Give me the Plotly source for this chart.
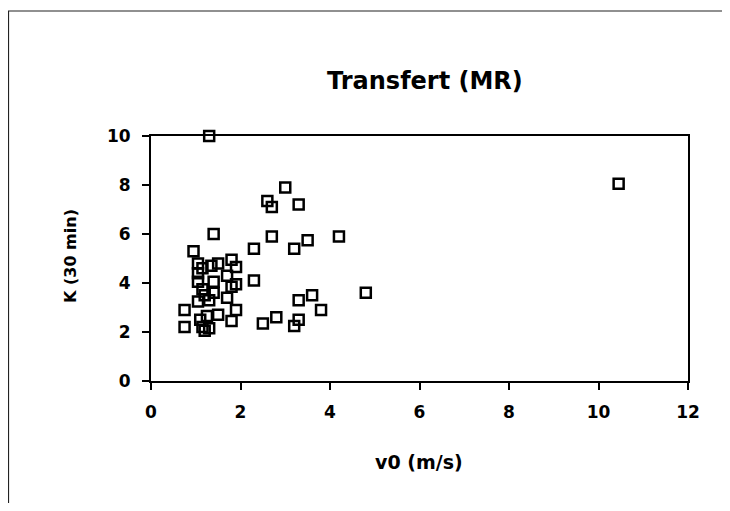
import plotly.graph_objects as go

# v0 (m/s) and K (30 min) values
v0 = [1.3, 10.45, 3.0, 2.6, 2.7, 3.3, 1.4, 2.7, 4.2, 3.5, 3.2, 2.3, 0.95,
      2.3, 4.8, 3.6, 3.3, 3.8, 2.8, 2.5, 3.3, 3.2, 0.75, 0.75,
      1.05, 1.15, 1.35, 1.5, 1.8, 1.9, 1.7, 1.05, 1.05, 1.4, 1.8, 1.9,
      1.15, 1.4, 1.2, 1.7, 1.05, 1.3, 1.9, 1.5, 1.25, 1.1, 1.8, 1.3, 1.2, 1.15]
K = [10.0, 8.05, 7.9, 7.35, 7.1, 7.2, 6.0, 5.9, 5.9, 5.75, 5.4, 5.4, 5.3,
     4.1, 3.6, 3.5, 3.3, 2.9, 2.6, 2.35, 2.5, 2.25, 2.9, 2.2,
     4.8, 4.6, 4.7, 4.8, 4.95, 4.65, 4.3, 4.4, 4.05, 4.05, 3.85, 3.95,
     3.75, 3.6, 3.5, 3.4, 3.25, 3.3, 2.9, 2.7, 2.65, 2.5, 2.45, 2.15, 2.05, 2.2]

title_text = "Transfert (MR)"
x_title = "v0 (m/s)"
y_title = "K (30 min)"
x_ticks = [0, 2, 4, 6, 8, 10, 12]
y_ticks = [0, 2, 4, 6, 8, 10]

FONT = "DejaVu Sans"

# the page body has an 8px margin; work in page pixels and shift
OFF = 8
W, H = 730 - 2 * OFF, 511 - 2 * OFF
L, R, T, B = 151 - OFF, 688 - OFF, 136 - OFF, 381 - OFF

def px(xp):
    return (xp - OFF - L) / (R - L)

def py(yp):
    return (B - (yp - OFF)) / (B - T)

fig = go.Figure()
fig.add_trace(go.Scatter(
    x=v0, y=K, mode="markers",
    marker=dict(symbol="square-open", size=10, color="black",
                line=dict(width=2.5, color="black")),
    cliponaxis=False, showlegend=False,
))

axis_common = dict(showgrid=False, zeroline=False, showline=True, linecolor="black",
                   linewidth=2, mirror=True, ticks="outside", ticklen=7,
                   tickwidth=1.5, tickcolor="black", ticklabelstandoff=8,
                   tickfont=dict(family=FONT, size=17, color="black", weight="bold"))

fig.update_xaxes(range=[0, 12], tickvals=x_ticks, **axis_common)
fig.update_yaxes(range=[0, 10], tickvals=y_ticks, **axis_common)

fig.update_layout(
    width=W, height=H,
    margin=dict(l=L, r=W - R, t=T, b=H - B),
    paper_bgcolor="white", plot_bgcolor="white",
    annotations=[
        dict(text=title_text, x=px(425), y=py(81), xref="paper", yref="paper",
             showarrow=False, xanchor="center", yanchor="middle",
             font=dict(family=FONT, size=24, color="black", weight="bold")),
        dict(text=x_title, x=px(419), y=py(462), xref="paper", yref="paper",
             showarrow=False, xanchor="center", yanchor="middle",
             font=dict(family=FONT, size=19, color="black", weight="bold")),
        dict(text=y_title, x=px(70), y=py(256), xref="paper", yref="paper",
             showarrow=False, xanchor="center", yanchor="middle", textangle=-90,
             font=dict(family=FONT, size=16, color="black", weight="bold")),
    ],
    shapes=[
        dict(type="rect", xref="paper", yref="paper",
             x0=px(OFF + 0.5), x1=px(760), y0=py(560), y1=py(11),
             line=dict(color="#222222", width=1.2), fillcolor="rgba(0,0,0,0)",
             layer="below"),
    ],
)

fig.write_html("out.html")
